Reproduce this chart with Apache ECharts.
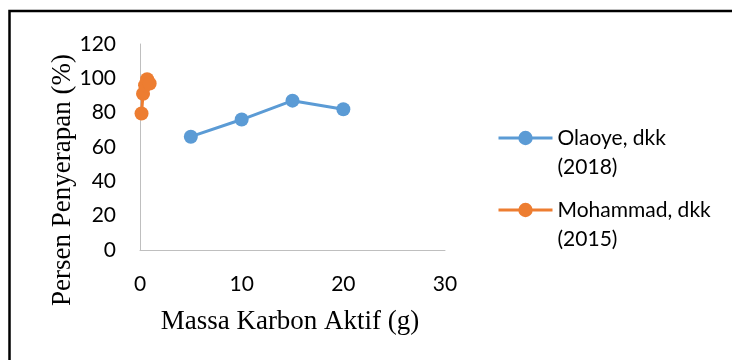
<!DOCTYPE html>
<html>
<head>
<meta charset="utf-8">
<script src="https://cdn.jsdelivr.net/npm/echarts@6/dist/echarts.min.js"></script>
<style>
  html, body { margin: 0; padding: 0; background: #fff; }
  #chart { width: 732px; height: 360px; }
</style>
</head>
<body>
<div id="chart"></div>
<script>
// Activated carbon mass vs. adsorption percentage, two studies
const olaoyeMass = [5, 10, 15, 20];
const olaoyeUptake = [66, 76, 87, 82];
const mohammadMass = [0.15, 0.3, 0.5, 0.7, 0.95];
const mohammadUptake = [79.5, 91, 96, 99.5, 97];

const seriesNames = ['Olaoye, dkk\n(2018)', 'Mohammad, dkk\n(2015)'];
const seriesColors = ['#5B9BD5', '#ED7D31'];

const xTitle = 'Massa Karbon Aktif (g)';
const yTitle = 'Persen Penyerapan (%)';

const pairs = (xs, ys) => xs.map((x, i) => [x, ys[i]]);

const sansFont = 'Lato';
const serifFont = '"Liberation Serif", "Times New Roman", serif';

const legendText = {
  color: '#000',
  fontFamily: sansFont,
  fontSize: 21,
  lineHeight: 29
};
// A leading blank line keeps the legend icon level with the first text line
const legendLabel = name => '\n' + name;

const chart = echarts.init(document.getElementById('chart'), null, { renderer: 'canvas' });

chart.setOption({
  animation: false,
  backgroundColor: '#fff',
  grid: { left: 140, right: 287, top: 44, bottom: 110, containLabel: false },
  xAxis: {
    type: 'value',
    min: 0, max: 30, interval: 10,
    axisLine: { show: true, onZero: false, lineStyle: { color: '#BFBFBF', width: 1 } },
    axisTick: { show: false },
    splitLine: { show: false },
    axisLabel: { color: '#000', fontFamily: sansFont, fontSize: 21, margin: 24 }
  },
  yAxis: {
    type: 'value',
    min: 0, max: 120, interval: 20,
    axisLine: { show: true, onZero: false, lineStyle: { color: '#BFBFBF', width: 1 } },
    axisTick: { show: false },
    splitLine: { show: false },
    axisLabel: { color: '#000', fontFamily: sansFont, fontSize: 21, margin: 24 }
  },
  legend: [
    {
      data: [seriesNames[0]],
      left: 497, top: 94.5, orient: 'vertical', padding: 0,
      itemWidth: 54, itemHeight: 18,
      lineStyle: { width: 3 },
      formatter: legendLabel,
      textStyle: legendText
    },
    {
      data: [seriesNames[1]],
      left: 497, top: 166.5, orient: 'vertical', padding: 0,
      itemWidth: 54, itemHeight: 18,
      lineStyle: { width: 3 },
      formatter: legendLabel,
      textStyle: legendText
    }
  ],
  series: [
    {
      name: seriesNames[0],
      type: 'line',
      data: pairs(olaoyeMass, olaoyeUptake),
      symbol: 'circle', symbolSize: 14,
      lineStyle: { color: seriesColors[0], width: 3 },
      itemStyle: { color: seriesColors[0] }
    },
    {
      name: seriesNames[1],
      type: 'line',
      data: pairs(mohammadMass, mohammadUptake),
      symbol: 'circle', symbolSize: 14,
      lineStyle: { color: seriesColors[1], width: 3 },
      itemStyle: { color: seriesColors[1] }
    }
  ],
  graphic: [
    {
      type: 'rect',
      shape: { x: 9.5, y: 11, width: 900, height: 500 },
      style: { fill: 'none', stroke: '#000', lineWidth: 2.5 },
      silent: true
    },
    {
      type: 'text',
      x: 63, y: 180, rotation: Math.PI / 2,
      style: {
        text: yTitle, fill: '#000', font: '27px ' + serifFont,
        align: 'center', verticalAlign: 'middle'
      }
    },
    {
      type: 'text',
      x: 290, y: 322,
      style: {
        text: xTitle, fill: '#000', font: '27px ' + serifFont,
        align: 'center', verticalAlign: 'middle'
      }
    }
  ]
});
</script>
</body>
</html>
